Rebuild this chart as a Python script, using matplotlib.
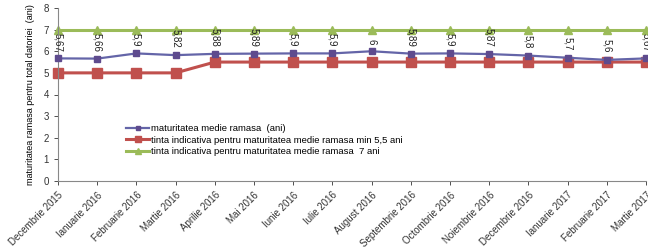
import matplotlib.pyplot as plt

luni = ["Decembrie 2015", "Ianuarie 2016", "Februarie 2016", "Martie 2016",
        "Aprilie 2016", "Mai 2016", "Iunie 2016", "Iulie 2016", "August 2016",
        "Septembrie 2016", "Octombrie 2016", "Noiembrie 2016", "Decembrie 2016",
        "Ianuarie 2017", "Februarie 2017", "Martie 2017"]
maturitate = [5.67, 5.66, 5.9, 5.82, 5.88, 5.89, 5.9, 5.9, 6, 5.89, 5.9, 5.87,
              5.8, 5.7, 5.6, 5.67]
tinta_min = [5, 5, 5, 5, 5.5, 5.5, 5.5, 5.5, 5.5, 5.5, 5.5, 5.5, 5.5, 5.5, 5.5, 5.5]
tinta_7 = [7] * 16

plt.rcParams['font.family'] = ['Liberation Sans', 'DejaVu Sans']

fig = plt.figure(figsize=(6.48, 2.48), dpi=100)
ax = fig.add_axes([58 / 648, 1 - 181 / 248, (646 - 58) / 648, (181 - 8) / 248])

x = list(range(len(luni)))
ax.plot(x, maturitate, color="#6465A8", lw=1.6, marker="s", ms=4,
        mfc="#5E4B8E", mec="#5E4B8E", label="maturitatea medie ramasa  (ani)", zorder=3)
ax.plot(x, tinta_min, color="#C0504D", lw=2.2, marker="s", ms=6.5,
        label="tinta indicativa pentru maturitatea medie ramasa min 5,5 ani", zorder=2)
ax.plot(x, tinta_7, color="#9BBB59", lw=2.2, marker="^", ms=6,
        label="tinta indicativa pentru maturitatea medie ramasa  7 ani", zorder=2)

for xi, v in zip(x, maturitate):
    txt = ("%g" % v).replace(".", ",")
    ax.annotate(txt, (xi, v), xytext=(0, 5), textcoords="offset points",
                rotation=270, ha="center", va="bottom", fontsize=7, color="#222222")

ax.set_xlim(0, len(luni) - 1)
ax.set_ylim(0, 8)
ax.set_yticks(range(0, 9))
ax.set_xticks(x)
ax.set_xticklabels(luni, rotation=45, ha="right", rotation_mode="anchor", fontsize=7)
ax.tick_params(axis="y", labelsize=7, length=3, width=0.6, colors="#333333")
ax.tick_params(axis="x", length=3, width=0.6, colors="#333333")
ax.set_ylabel("maturitatea ramasa pentru total datoriei  (ani)", fontsize=6.5, labelpad=6)
for s in ["top", "right"]:
    ax.spines[s].set_visible(False)
for s in ["left", "bottom"]:
    ax.spines[s].set_color("#888888")
    ax.spines[s].set_linewidth(0.8)

leg = ax.legend(loc="upper left", bbox_to_anchor=(0.11, 0.35), frameon=False,
                fontsize=6.8, handlelength=2.4, handletextpad=0.2, labelspacing=0.25,
                borderaxespad=0, markerscale=0.7)
for line in ax.lines:
    line.set_clip_on(False)

fig.savefig("out.png", dpi=100)
